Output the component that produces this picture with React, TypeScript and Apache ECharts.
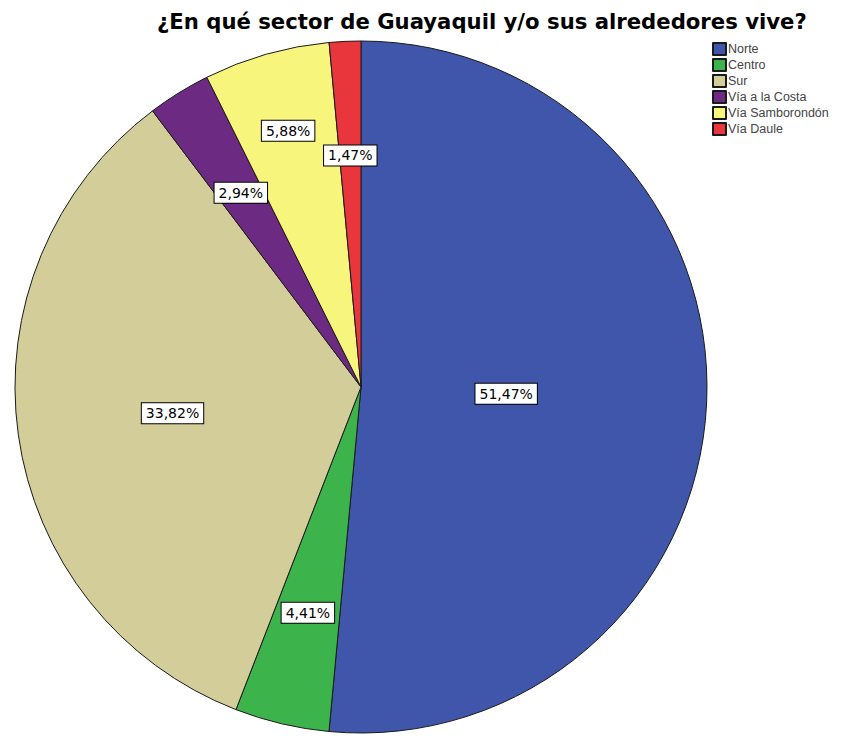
import React, { useEffect, useRef } from "react";
import * as echarts from "echarts";

const TITLE = "¿En qué sector de Guayaquil y/o sus alrededores vive?";
const categories = ["Norte", "Centro", "Sur", "Vía a la Costa", "Vía Samborondón", "Vía Daule"];
const percents = [51.47, 4.41, 33.82, 2.94, 5.88, 1.47];
const colors = ["#3f56ab", "#3cb44b", "#d3cd99", "#6c2a83", "#f8f57c", "#e8363c"];
// radial position of each inside label, as a fraction of the radius
const labelRadius = [0.42, 0.67, 0.55, 0.66, 0.77, 0.67];

const CX = 361;
const CY = 387;
const R = 346;

export default function App() {
  const ref = useRef<HTMLDivElement>(null);
  useEffect(() => {
    if (!ref.current) return;
    const chart = echarts.init(ref.current, null, { renderer: "svg" });
    const total = percents.reduce((a, b) => a + b, 0);
    const midAngle = (i: number) => {
      let before = 0;
      for (let k = 0; k < i; k++) before += percents[k];
      return ((before + percents[i] / 2) / total) * Math.PI * 2;
    };
    chart.setOption({
      animation: false,
      backgroundColor: "#ffffff",
      title: {
        text: TITLE,
        left: 152,
        top: 6,
        textStyle: {
          fontFamily: "DejaVu Sans, sans-serif",
          fontSize: 21.2,
          fontWeight: "bold",
          color: "#000",
        },
      },
      legend: {
        orient: "vertical",
        left: 707,
        top: 37,
        icon: "rect",
        itemWidth: 13,
        itemHeight: 12,
        itemGap: 2,
        data: categories,
        textStyle: {
          fontFamily: "Liberation Sans, Arial, sans-serif",
          fontSize: 12.5,
          color: "#444",
          padding: [0, 0, 0, -3],
        },
      },
      series: [
        {
          type: "pie",
          center: [CX, CY],
          radius: R,
          startAngle: 90,
          clockwise: true,
          avoidLabelOverlap: false,
          itemStyle: { borderColor: "#1a1a1a", borderWidth: 1 },
          label: {
            show: true,
            position: "inside",
            formatter: (p: any) => p.value.toFixed(2).replace(".", ",") + "%",
            fontFamily: "DejaVu Sans, sans-serif",
            fontSize: 14,
            color: "#000",
            backgroundColor: "#ffffff",
            borderColor: "#000",
            borderWidth: 1,
            padding: [3, 4, 3, 4],
          },
          labelLayout: (params: any) => {
            const i = params.dataIndex;
            const a = midAngle(i);
            const rr = R * labelRadius[i];
            return {
              x: CX + Math.sin(a) * rr,
              y: CY - Math.cos(a) * rr,
              align: "center",
              verticalAlign: "middle",
            };
          },
          emphasis: { disabled: true },
          data: categories.map((name, i) => ({
            name,
            value: percents[i],
            itemStyle: { color: colors[i] },
          })),
        },
      ],
    });
    return () => chart.dispose();
  }, []);
  return (
    <div
      ref={ref}
      style={{ position: "fixed", left: 0, top: 0, width: 861, height: 736 }}
    />
  );
}
